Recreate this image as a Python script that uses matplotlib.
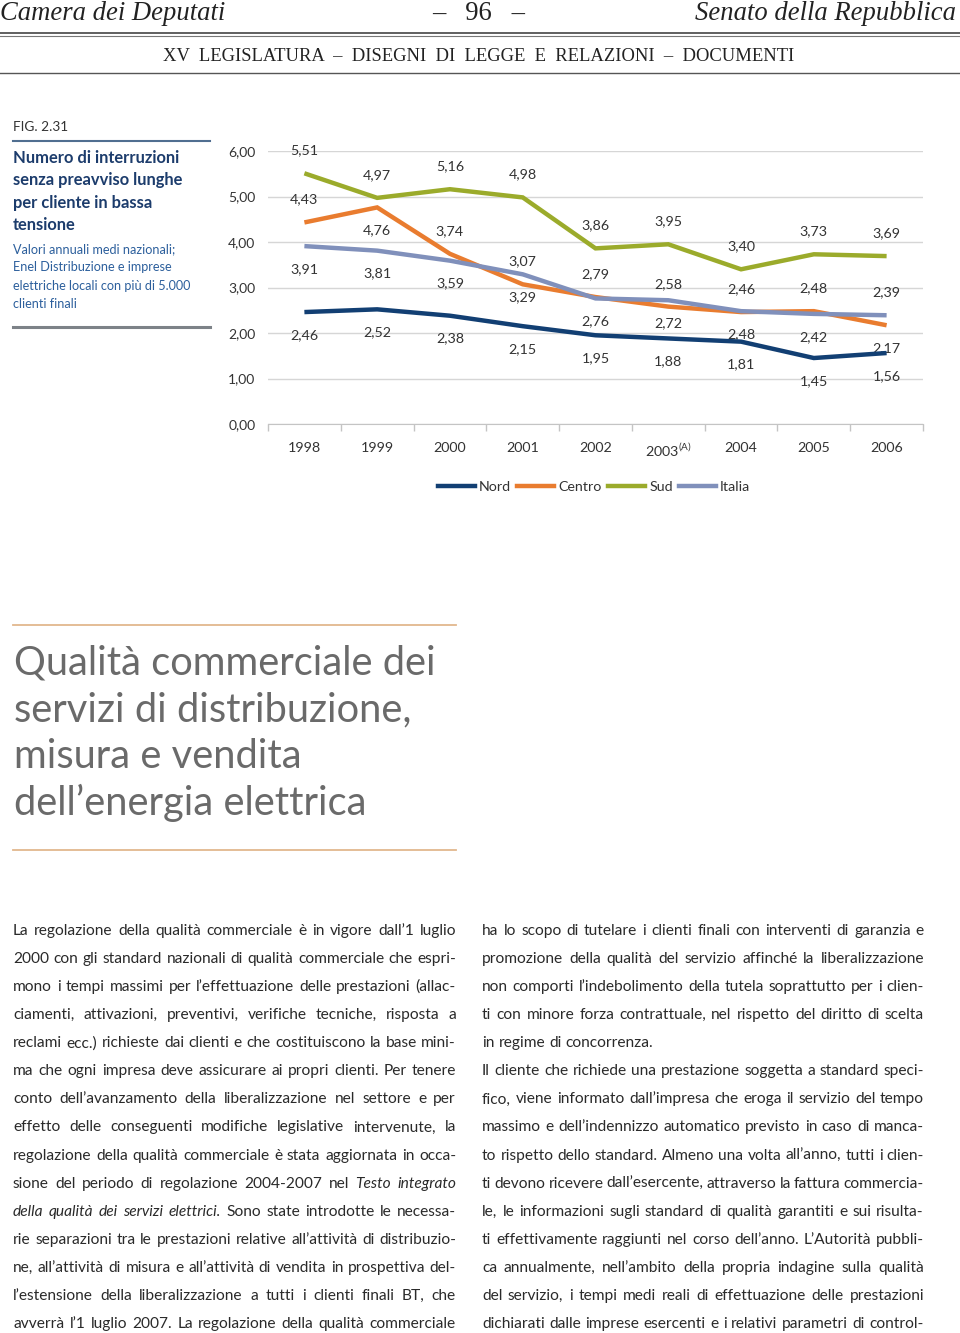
import matplotlib
matplotlib.use('Agg')
import matplotlib.pyplot as plt
from matplotlib import font_manager
from matplotlib.lines import Line2D
import numpy as np

W, H = 960, 1333

names = {f.name for f in font_manager.fontManager.ttflist}
SANS = 'Liberation Sans Narrow' if 'Liberation Sans Narrow' in names else 'Lato'
SERIF = 'Liberation Serif'

plt.rcParams['mathtext.fontset'] = 'custom'
plt.rcParams['mathtext.rm'] = SANS
plt.rcParams['font.family'] = SANS

# data
years = ['1998', '1999', '2000', '2001', '2002', '2003', '2004', '2005', '2006']
nord = [2.46, 2.52, 2.38, 2.15, 1.95, 1.88, 1.81, 1.45, 1.56]
centro = [4.43, 4.76, 3.74, 3.07, 2.79, 2.58, 2.46, 2.48, 2.17]
sud = [5.51, 4.97, 5.16, 4.98, 3.86, 3.95, 3.40, 3.73, 3.69]
italia = [3.91, 3.81, 3.59, 3.29, 2.76, 2.72, 2.48, 2.42, 2.39]
yticks = [0, 1, 2, 3, 4, 5, 6]

# label side: 1 above the line, -1 below
side_nord = [-1] * 9
side_centro = [1, -1, 1, 1, 1, 1, 1, 1, -1]
side_sud = [1] * 9
side_italia = [-1, -1, -1, -1, -1, -1, -1, -1, 1]

C_NORD = '#123f73'
C_CENTRO = '#e97c2f'
C_SUD = '#9bab2b'
C_ITALIA = '#8090bb'

left_col = [
    "La regolazione della qualità commerciale è in vigore dall’1 luglio",
    "2000 con gli standard nazionali di qualità commerciale che espri-",
    "mono i tempi massimi per l’effettuazione delle prestazioni (allac-",
    "ciamenti, attivazioni, preventivi, verifiche tecniche, risposta a",
    "reclami ecc.) richieste dai clienti e che costituiscono la base mini-",
    "ma che ogni impresa deve assicurare ai propri clienti. Per tenere",
    "conto dell’avanzamento della liberalizzazione nel settore e per",
    "effetto delle conseguenti modifiche legislative intervenute, la",
    "regolazione della qualità commerciale è stata aggiornata in occa-",
    "sione del periodo di regolazione 2004-2007 nel _Testo _integrato",
    "_della _qualità _dei _servizi _elettrici. Sono state introdotte le necessa-",
    "rie separazioni tra le prestazioni relative all’attività di distribuzio-",
    "ne, all’attività di misura e all’attività di vendita in prospettiva del-",
    "l’estensione della liberalizzazione a tutti i clienti finali BT, che",
    "avverrà l’1 luglio 2007. La regolazione della qualità commerciale",
]
right_col = [
    "ha lo scopo di tutelare i clienti finali con interventi di garanzia e",
    "promozione della qualità del servizio affinché la liberalizzazione",
    "non comporti l’indebolimento della tutela soprattutto per i clien-",
    "ti con minore forza contrattuale, nel rispetto del diritto di scelta",
    "in regime di concorrenza.",
    "Il cliente che richiede una prestazione soggetta a standard speci-",
    "fico, viene informato dall’impresa che eroga il servizio del tempo",
    "massimo e dell’indennizzo automatico previsto in caso di manca-",
    "to rispetto dello standard. Almeno una volta all’anno, tutti i clien-",
    "ti devono ricevere dall’esercente, attraverso la fattura commercia-",
    "le, le informazioni sugli standard di qualità garantiti e sui risulta-",
    "ti effettivamente raggiunti nel corso dell’anno. L’Autorità pubbli-",
    "ca annualmente, nell’ambito della propria indagine sulla qualità",
    "del servizio, i tempi medi reali di effettuazione delle prestazioni",
    "dichiarati dalle imprese esercenti e i relativi parametri di control-",
]

fig = plt.figure(figsize=(9.6, 13.33), dpi=100)
renderer = fig.canvas.get_renderer()


def fx(x):
    return x / W


def fy(y):
    return 1 - y / H


def text_width(s, **kw):
    t = fig.text(0, 0, s, **kw)
    w = t.get_window_extent(renderer).width
    t.remove()
    return w


def fit(s, width, **kw):
    return 10 * width / text_width(s, fontsize=10, **kw)


def hline(y, x0, x1, color, lw):
    fig.add_artist(Line2D([fx(x0), fx(x1)], [fy(y), fy(y)], color=color, lw=lw,
                          transform=fig.transFigure))


def justify(line, x0, x1, y, size, color, last=False):
    words = []
    for w in line.split(' '):
        if w.startswith('_'):
            words.append((w[1:], 'italic'))
        else:
            words.append((w, 'normal'))
    widths = [text_width(w, fontsize=size, family=SANS, style=st) for w, st in words]
    if last or len(words) < 2:
        gap = text_width('a a', fontsize=size, family=SANS) - 2 * text_width('a', fontsize=size, family=SANS)
    else:
        gap = (x1 - x0 - sum(widths)) / (len(words) - 1)
    x = x0
    for (w, st), wd in zip(words, widths):
        fig.text(fx(x), fy(y), w, fontsize=size, family=SANS, style=st, color=color,
                 ha='left', va='baseline')
        x += wd + gap


# page header
hs = fit('Camera dei Deputati', 225, family=SERIF, style='italic')
fig.text(fx(0), fy(20), 'Camera dei Deputati', family=SERIF, style='italic', fontsize=hs,
         color='#222222', va='baseline')
fig.text(fx(956), fy(20), 'Senato della Repubblica', family=SERIF, style='italic', fontsize=hs,
         color='#222222', va='baseline', ha='right')
fig.text(fx(479), fy(20), '–   96   –', family=SERIF, fontsize=hs, color='#222222',
         va='baseline', ha='center')
hline(32.5, 0, 960, '#444444', 1.2)
hline(35.8, 0, 960, '#777777', 0.8)
leg_line = 'XV  LEGISLATURA  –  DISEGNI  DI  LEGGE  E  RELAZIONI  –  DOCUMENTI'
fig.text(fx(479), fy(61), leg_line, family=SERIF, fontsize=fit(leg_line, 633, family=SERIF),
         color='#222222', va='baseline', ha='center')
hline(73, 0, 960, '#555555', 1.0)

# figure caption block
fig.text(fx(13), fy(131), 'FIG. 2.31', fontsize=fit('FIG. 2.31', 55), color='#333333', va='baseline')
hline(141, 13, 210, '#506e90', 1.5)
title = ['Numero di interruzioni', 'senza preavviso lunghe', 'per cliente in bassa', 'tensione']
ts = fit(title[0], 168, weight='bold')
for i, s in enumerate(title):
    fig.text(fx(13), fy(163 + 22.5 * i), s, fontsize=ts, weight='bold', color='#1c3c6c', va='baseline')
sub = ['Valori annuali medi nazionali;', 'Enel Distribuzione e imprese',
       'elettriche locali con più di 5.000', 'clienti finali']
ss = fit(sub[2], 178)
for i, s in enumerate(sub):
    fig.text(fx(13), fy(253 + 18.3 * i), s, fontsize=ss, color='#2c5f9c', va='baseline')
hline(327, 13, 210, '#7d8288', 2.2)

# chart
ax = fig.add_axes([fx(268), fy(424), (923 - 268) / W, (424 - 151) / H])
x = np.arange(len(years))
series = [('Centro', centro, C_CENTRO, side_centro), ('Italia', italia, C_ITALIA, side_italia),
          ('Sud', sud, C_SUD, side_sud), ('Nord', nord, C_NORD, side_nord)]
for name, vals, col, side in series:
    ax.plot(x, vals, color=col, lw=3.2, solid_capstyle='butt', solid_joinstyle='miter', zorder=3)
    for xi, v, sd in zip(x, vals, side):
        ax.annotate(f'{v:.2f}'.replace('.', ','), (xi, v), xytext=(0, 16.5 * sd),
                    textcoords='offset points', ha='center', va='center', fontsize=10.3,
                    color='#333333')
ax.set_xlim(-0.5, 8.5)
ax.set_ylim(0, 6)
ax.set_yticks(yticks)
ax.set_yticklabels([f'{v:.2f}'.replace('.', ',') for v in yticks])
ax.set_xticks(x)
ax.set_xticklabels([y if y != '2003' else '2003$^{\\mathrm{(A)}}$' for y in years])
ax.set_xticks(np.arange(-0.5, 9, 1), minor=True)
ax.tick_params(axis='y', length=0, pad=9, labelsize=10, labelcolor='#333333')
ax.tick_params(axis='x', which='major', length=0, pad=13, labelsize=10.3, labelcolor='#333333')
ax.tick_params(axis='x', which='minor', length=5, width=1, color='#c4c4c4', direction='out')
ax.yaxis.grid(True, color='#d6d6d6', lw=1)
ax.set_axisbelow(True)
for sp in ['top', 'left', 'right']:
    ax.spines[sp].set_visible(False)
ax.spines['bottom'].set_color('#c4c4c4')

handles = [Line2D([], [], color=C_NORD, lw=3.2), Line2D([], [], color=C_CENTRO, lw=3.2),
           Line2D([], [], color=C_SUD, lw=3.2), Line2D([], [], color=C_ITALIA, lw=3.2)]
fig.legend(handles, ['Nord', 'Centro', 'Sud', 'Italia'], loc='center',
           bbox_to_anchor=(fx(594), fy(487)), ncol=4, frameon=False, fontsize=10.3,
           handlelength=2.6, handletextpad=0.3, columnspacing=0.4, labelcolor='#333333')

# section heading
hline(625, 13, 456, '#e2b88e', 1.3)
heading = ['Qualità commerciale dei', 'servizi di distribuzione,', 'misura e vendita',
           'dell’energia elettrica']
hsz = fit(heading[0], 423, family='Lato')
for i, s in enumerate(heading):
    fig.text(fx(14), fy(675 + 46.7 * i), s, family='Lato', fontsize=hsz, color='#6a6a6a',
             va='baseline')
hline(850, 13, 456, '#e2b88e', 1.3)

# body text
bsz = fit(left_col[4], 440, family=SANS)
for i, s in enumerate(left_col):
    justify(s, 13, 456, 935 + 28.07 * i, bsz, '#2a2a2a')
for i, s in enumerate(right_col):
    justify(s, 482, 924, 935 + 28.07 * i, bsz, '#2a2a2a', last=(i == 4))

fig.savefig('out.png', dpi=100, facecolor='white')
